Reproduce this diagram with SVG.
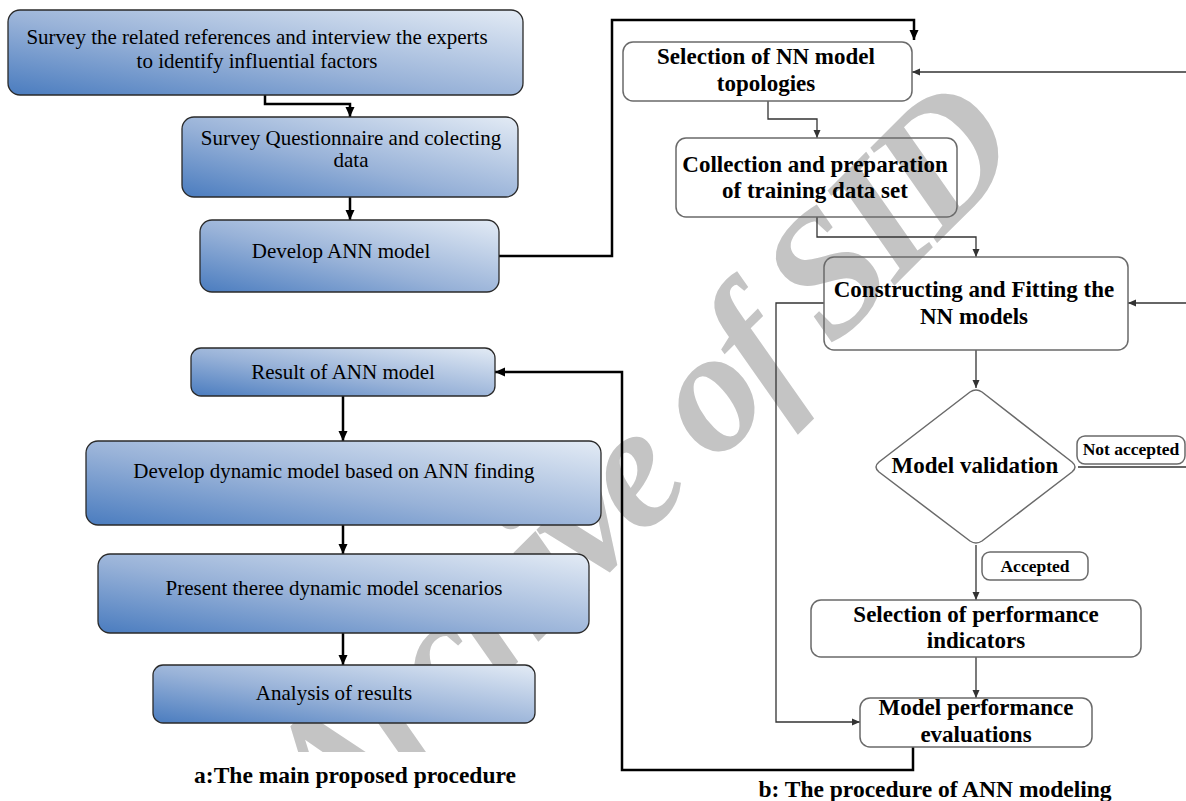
<svg xmlns="http://www.w3.org/2000/svg" width="1186" height="801" viewBox="0 0 1186 801">
<defs>
<linearGradient id="blue" x1="0" y1="1" x2="1" y2="0">
<stop offset="0" stop-color="#4a7cbf"/>
<stop offset="0.45" stop-color="#98b2d8"/>
<stop offset="1" stop-color="#e3ebf5"/>
</linearGradient>
<marker id="ab" markerWidth="10" markerHeight="10" refX="10" refY="5" orient="auto" markerUnits="userSpaceOnUse">
<path d="M0,0.5 L10,5 L0,9.5 Z" fill="#000"/>
</marker>
<marker id="as" markerWidth="8" markerHeight="8" refX="8" refY="4" orient="auto" markerUnits="userSpaceOnUse">
<path d="M0,0.5 L8,4 L0,7.5 Z" fill="#333"/>
</marker>
</defs>
<style>
.wm{font-family:"Liberation Serif","Times New Roman",serif;font-weight:bold;font-style:italic;font-size:175px;letter-spacing:-8px;fill:#c4c4c4}
.bx{fill:url(#blue);stroke:#2a2a2a;stroke-width:1.3}
.wb{fill:none;stroke:#6a6a6a;stroke-width:1.5}
.t{font-family:"Liberation Serif","Times New Roman",serif;font-size:21px;fill:#000;text-anchor:middle}
.b{font-family:"Liberation Serif","Times New Roman",serif;font-size:23px;font-weight:bold;fill:#000;text-anchor:middle}
.lbl{font-family:"Liberation Serif","Times New Roman",serif;font-size:17.5px;font-weight:bold;fill:#000;text-anchor:middle}
.cap{font-family:"Liberation Serif","Times New Roman",serif;font-size:23.5px;font-weight:bold;fill:#000;text-anchor:middle}
.ck{fill:none;stroke:#000;stroke-width:2.5}
.cs{fill:none;stroke:#333;stroke-width:1.3}
</style>
<rect x="0" y="0" width="1186" height="801" fill="#fff"/>
<text class="wm" transform="translate(331,849) rotate(-45)">Archive of SID</text>
<rect x="100" y="752" width="500" height="49" fill="#fff"/>

<g id="connectors">
<path class="ck" d="M265,95 V104 H350 V117" marker-end="url(#ab)"/>
<path class="ck" d="M350,197 V220" marker-end="url(#ab)"/>
<path class="ck" d="M499,256 H612 V20 H914 V40" marker-end="url(#ab)"/>
<path class="ck" d="M343,396 V441" marker-end="url(#ab)"/>
<path class="ck" d="M343,525 V554" marker-end="url(#ab)"/>
<path class="ck" d="M343,633 V665" marker-end="url(#ab)"/>
<path class="ck" d="M913,747 V770 H622 V372 H495" marker-end="url(#ab)"/>
<path class="cs" d="M768,101 V119 H817 V138" marker-end="url(#as)"/>
<path class="cs" d="M817,217 V237 H976 V257" marker-end="url(#as)"/>
<path class="cs" d="M976,350 V388" marker-end="url(#as)"/>
<path class="cs" d="M976,545 V600" marker-end="url(#as)"/>
<path class="cs" d="M976,657 V698" marker-end="url(#as)"/>
<path class="cs" d="M824,303 H776 V722 H860" marker-end="url(#as)"/>
<path class="cs" d="M1186,72 H912" marker-end="url(#as)"/>
<path class="cs" d="M1186,303 H1128" marker-end="url(#as)"/>
<path class="cs" d="M1078,467 H1186"/>
</g>

<g id="n1"><rect class="bx" x="8" y="10" width="515" height="85" rx="12"/>
<text class="t" x="257" y="44">Survey the related references and interview the experts</text>
<text class="t" x="257" y="68">to identify influential factors</text></g>
<g id="n2"><rect class="bx" x="182" y="117" width="336" height="80" rx="12"/>
<text class="t" x="351" y="145">Survey Questionnaire and colecting</text>
<text class="t" x="351" y="167">data</text></g>
<g id="n3"><rect class="bx" x="200" y="220" width="299" height="72" rx="12"/>
<text class="t" x="341" y="258">Develop ANN model</text></g>
<g id="n4"><rect class="bx" x="191" y="348" width="304" height="48" rx="10"/>
<text class="t" x="343" y="379">Result of ANN model</text></g>
<g id="n5"><rect class="bx" x="86" y="441" width="515" height="84" rx="12"/>
<text class="t" x="334" y="478">Develop dynamic model based on ANN finding</text></g>
<g id="n6"><rect class="bx" x="98" y="554" width="491" height="79" rx="12"/>
<text class="t" x="334" y="595">Present theree dynamic model scenarios</text></g>
<g id="n7"><rect class="bx" x="153" y="665" width="382" height="58" rx="10"/>
<text class="t" x="334" y="700">Analysis of results</text></g>
<text class="cap" x="355" y="783">a:The main proposed procedure</text>

<g id="r1"><rect class="wb" x="623" y="42" width="289" height="59" rx="10"/>
<text class="b" x="766" y="64">Selection of NN model</text>
<text class="b" x="766" y="91">topologies</text></g>
<g id="r2"><rect class="wb" x="676" y="138" width="281" height="79" rx="10"/>
<text class="b" x="815" y="172">Collection and preparation</text>
<text class="b" x="815" y="198">of training data set</text></g>
<g id="r3"><rect class="wb" x="824" y="257" width="304" height="93" rx="10"/>
<text class="b" x="974" y="297">Constructing and Fitting the</text>
<text class="b" x="974" y="324">NN models</text></g>
<g id="r4"><path class="wb" d="M970,392 Q976,388 982,392 L1072,462 Q1078,467 1072,472 L982,541 Q976,545 970,541 L879,472 Q873,467 879,462 Z"/>
<text class="b" x="975" y="473">Model validation</text></g>
<g id="l1"><rect class="wb" x="1077" y="436" width="108" height="28" rx="8"/>
<text class="lbl" x="1131" y="455">Not accepted</text></g>
<g id="l2"><rect class="wb" x="982" y="552" width="106" height="28" rx="8"/>
<text class="lbl" x="1035" y="572">Accepted</text></g>
<g id="r5"><rect class="wb" x="811" y="600" width="330" height="57" rx="10"/>
<text class="b" x="976" y="622">Selection of performance</text>
<text class="b" x="976" y="648">indicators</text></g>
<g id="r6"><rect class="wb" x="860" y="698" width="232" height="49" rx="10"/>
<text class="b" x="976" y="715">Model performance</text>
<text class="b" x="976" y="742">evaluations</text></g>
<text class="cap" x="935" y="797">b: The procedure of ANN modeling</text>
</svg>
